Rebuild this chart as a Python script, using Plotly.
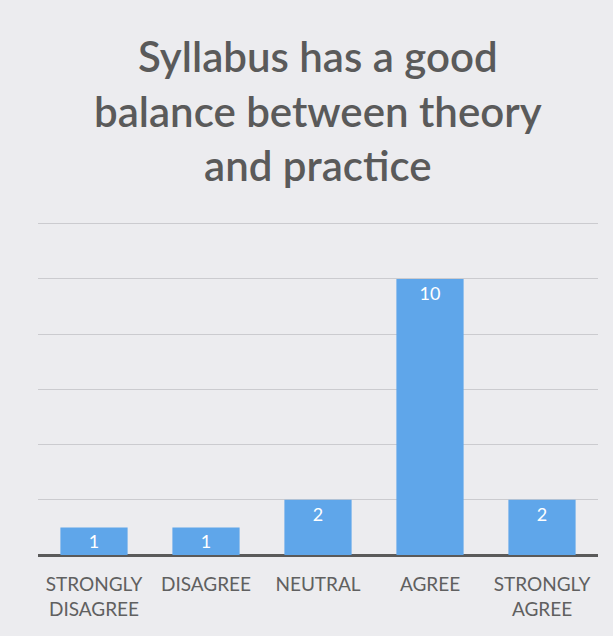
import plotly.graph_objects as go

categories = ["STRONGLY<br>DISAGREE", "DISAGREE", "NEUTRAL", "AGREE", "STRONGLY<br>AGREE"]
values = [1, 1, 2, 10, 2]
title_text = "Syllabus has a good<br>balance between theory<br>and practice"

fig = go.Figure(go.Bar(
    x=categories, y=values,
    marker=dict(color="#5fa6ea", line=dict(width=0)),
    text=[str(v) for v in values], textposition="inside", insidetextanchor="end",
    textangle=0, constraintext="none",
    textfont=dict(color="white", size=18, family="Lato"),
    width=0.6,
))

fig.add_annotation(
    text=title_text, x=0.5, xref="paper", y=1.33, yref="paper",
    xanchor="center", yanchor="middle", showarrow=False,
    font=dict(family="Lato", size=42, color="#5a5a5a", weight=600),
)

fig.update_layout(
    width=613, height=636,
    margin=dict(l=38, r=15, t=221, b=81, autoexpand=False),
    paper_bgcolor="#ececef", plot_bgcolor="#ececef",
    showlegend=False,
    xaxis=dict(tickfont=dict(family="Lato", size=19, color="#606060"), showgrid=False,
               showline=False, ticks="", fixedrange=True, ticklabelstandoff=16,
               range=[-0.5, 4.5]),
    yaxis=dict(range=[0, 12.1], tickvals=[2, 4, 6, 8, 10, 12], showticklabels=False,
               gridcolor="#cbcbcf", gridwidth=1,
               zeroline=True, zerolinecolor="#5a5a5a", zerolinewidth=3, fixedrange=True),
    bargap=0.4,
)
fig.write_html("out.html", config={"displayModeBar": False},
               post_script="document.body.style.margin='0';")
